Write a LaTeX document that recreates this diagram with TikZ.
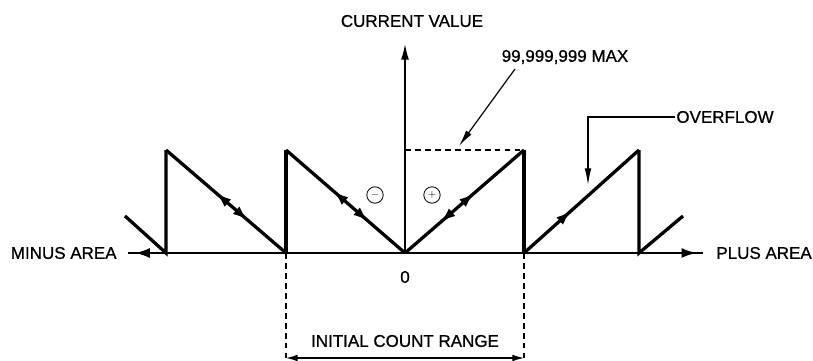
\documentclass[tikz,border=0pt]{standalone}
\usepackage{fontspec}
\setmainfont{Liberation Sans}
\newfontfamily\lbfam{Liberation Sans}[FakeBold=0.8]
\usepackage{tikz}
\usetikzlibrary{arrows.meta, decorations.markings}
\newcommand{\lbfont}{\lbfam\fontsize{14.5}{17}\selectfont}

\begin{document}
\begin{tikzpicture}[x=0.03cm, y=-0.03cm,
    lbl/.style={font=\lbfont, inner sep=1pt},
    saw/.style={line width=2.8pt, line join=miter, line cap=butt},
    ax/.style={line width=1.9pt},
    lead/.style={line width=1pt, -{Latex[length=5mm, width=2mm]}},
    dsh/.style={line width=1.1pt, dash pattern=on 5pt off 3.5pt},
    sgn/.style={draw, circle, line width=0.7pt, minimum size=14pt, inner sep=0pt, font=\small},
    fwd/.style={postaction={decorate, decoration={markings,
      mark=at position #1 with {\arrow{Latex[length=4.5mm, width=3mm]}}}}},
    bwd/.style={postaction={decorate, decoration={markings,
      mark=at position #1 with {\arrowreversed{Latex[length=4.5mm, width=3mm]}}}}}]
    \useasboundingbox (0,0) rectangle (813,360);
    % points of the count
    \coordinate (o) at (405,253);
    \coordinate (vtop) at (405,43);
    \coordinate (m2) at (166,253); \coordinate (m2p) at (166,150);
    \coordinate (m1) at (286,253); \coordinate (m1p) at (286,150);
    \coordinate (p1) at (524,253); \coordinate (p1p) at (524,150);
    \coordinate (p2) at (639,253); \coordinate (p2p) at (639,150);
    \coordinate (lft) at (125,216); \coordinate (rgt) at (683,216);
    \coordinate (xl) at (128,253); \coordinate (xr) at (703,253);
    \coordinate (m1b) at (286,360); \coordinate (p1b) at (524,360);
    \coordinate (dl) at (286,358); \coordinate (dr) at (524,358);
    % labels
    \node[lbl] (cur) at (412,21) {CURRENT VALUE};
    \node[lbl] (max) at (565,57) {99,999,999 MAX};
    \node[lbl, anchor=west] (ovf) at (675,117) {OVERFLOW};
    \node[lbl, anchor=east] (minus) at (118,253) {MINUS AREA};
    \node[lbl, anchor=west] (plus) at (715,253) {PLUS AREA};
    \node[lbl] (zero) at (405,277) {0};
    \node[lbl] (icr) at (405,341) {INITIAL COUNT RANGE};
    \node[sgn] (neg) at (375,195) {$-$};
    \node[sgn] (pos) at (432,195) {$+$};
    \coordinate (mxs) at (515,69); \coordinate (mxt) at (459,146);
    \coordinate (ovc) at (588,117); \coordinate (ovt) at (588,185);
    % axes
    \draw[ax] (m2) -- (p2);
    \draw[ax, fwd=0.82] (m2) -- (xl);
    \draw[ax, fwd=0.9] (p2) -- (xr);
    \draw[ax, -{Latex[length=5mm, width=2.4mm]}] (o) -- (vtop);
    % saw teeth
    \draw[saw] (lft) -- (m2) -- (m2p);
    \draw[saw, bwd=0.42, fwd=0.68] (m2p) -- (m1);
    \draw[saw] (m1) -- (m1p);
    \draw[saw, bwd=0.40, fwd=0.69] (m1p) -- (o);
    \draw[saw, bwd=0.30, fwd=0.58] (o) -- (p1p);
    \draw[saw] (p1p) -- (p1);
    \draw[saw, fwd=0.41] (p1) -- (p2p);
    \draw[saw] (p2p) -- (p2) -- (rgt);
    % max level and range
    \draw[dsh] (405,150) -- (p1p);
    \draw[dsh] (m1) -- (m1b);
    \draw[dsh] (p1) -- (p1b);
    \draw[line width=1pt, {Latex[length=3.5mm, width=2mm]}-{Latex[length=3.5mm, width=2mm]}] (dl) -- (dr);
    % leaders
    \draw[lead] (mxs) -- (mxt);
    \draw[lead] (ovf.west) -- (ovc) -- (ovt);
\end{tikzpicture}
\end{document}
